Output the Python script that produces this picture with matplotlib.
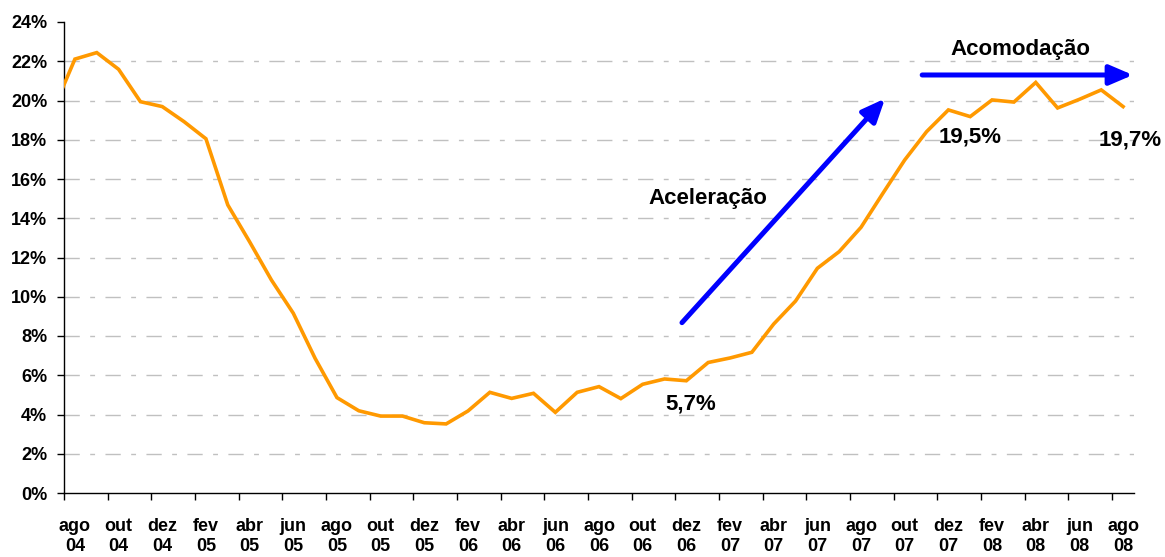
import matplotlib
matplotlib.use("Agg")
import matplotlib.pyplot as plt
from matplotlib.ticker import FixedLocator, NullFormatter, FuncFormatter

plt.rcParams['font.family'] = ['Liberation Sans', 'DejaVu Sans']

# ---- data ----
months = ["jul 04",
          "ago 04", "set 04", "out 04", "nov 04", "dez 04", "jan 05", "fev 05", "mar 05", "abr 05", "mai 05",
          "jun 05", "jul 05", "ago 05", "set 05", "out 05", "nov 05", "dez 05", "jan 06", "fev 06", "mar 06",
          "abr 06", "mai 06", "jun 06", "jul 06", "ago 06", "set 06", "out 06", "nov 06", "dez 06", "jan 07",
          "fev 07", "mar 07", "abr 07", "mai 07", "jun 07", "jul 07", "ago 07", "set 07", "out 07", "nov 07",
          "dez 07", "jan 08", "fev 08", "mar 08", "abr 08", "mai 08", "jun 08", "jul 08", "ago 08"]
values = [19.5,
          22.11, 22.44, 21.59, 19.94, 19.69, 18.92, 18.05, 14.68, 12.8, 10.85,
          9.16, 6.86, 4.86, 4.19, 3.92, 3.92, 3.58, 3.52, 4.18, 5.13,
          4.82, 5.08, 4.11, 5.13, 5.42, 4.81, 5.54, 5.81, 5.72, 6.65,
          6.88, 7.17, 8.61, 9.78, 11.45, 12.3, 13.54, 15.27, 16.97, 18.41,
          19.52, 19.18, 20.03, 19.92, 20.92, 19.62, 20.06, 20.54, 19.69]
tick_labels = ["ago\n04", "out\n04", "dez\n04", "fev\n05", "abr\n05", "jun\n05", "ago\n05", "out\n05",
               "dez\n05", "fev\n06", "abr\n06", "jun\n06", "ago\n06", "out\n06", "dez\n06", "fev\n07",
               "abr\n07", "jun\n07", "ago\n07", "out\n07", "dez\n07", "fev\n08", "abr\n08", "jun\n08",
               "ago\n08"]
y_ticks = [0, 2, 4, 6, 8, 10, 12, 14, 16, 18, 20, 22, 24]

annot_labels = ["5,7%", "19,5%", "19,7%"]
annot_months = ["dez 06", "dez 07", "ago 08"]

# ---- figure ----
W, H, DPI = 1165, 557, 100
fig = plt.figure(figsize=(W / DPI, H / DPI), dpi=DPI)
ax = fig.add_axes([64 / W, 1 - 493 / H, (1134 - 64) / W, (493 - 22) / H])

x = [i - 0.5 for i in range(len(months))]   # mid-month positions; index 1 = ago 04 at 0.5
ax.plot(x, values, color="#FF9900", lw=2.6, solid_joinstyle="miter", zorder=3)

ax.set_xlim(0, 49)
ax.set_ylim(0, 24)

# grid
for yv in y_ticks[1:-1]:
    ax.axhline(yv, color="#c0c0c0", lw=1.0, dashes=(11, 7.5, 3.5, 7.5), zorder=1)

# spines
for s in ["top", "right"]:
    ax.spines[s].set_visible(False)
for s in ["left", "bottom"]:
    ax.spines[s].set_color("black")
    ax.spines[s].set_linewidth(1.0)

ax.yaxis.set_major_locator(FixedLocator(y_ticks))
ax.yaxis.set_major_formatter(FuncFormatter(lambda v, p: f"{int(v)}%"))
ax.tick_params(axis="y", direction="out", length=5, width=1, pad=7, labelsize=13)
for lbl in ax.get_yticklabels():
    lbl.set_fontweight("bold")

label_pos = [i + 0.5 for i in range(0, 49, 2)]
ax.xaxis.set_major_locator(FixedLocator(list(range(0, 49, 2))))
ax.xaxis.set_major_formatter(NullFormatter())
ax.xaxis.set_minor_locator(FixedLocator(label_pos))
ax.set_xticklabels(tick_labels, minor=True)
ax.tick_params(axis="x", which="major", direction="out", length=5, width=1)
ax.tick_params(axis="x", which="minor", length=0, pad=18, labelsize=13)
for lbl in ax.get_xticklabels(minor=True):
    lbl.set_fontweight("bold")
    lbl.set_linespacing(1.25)

# value annotations
offsets = {"dez 06": (0.22, -1.19), "dez 07": (1.0, -1.38), "ago 08": (0.33, -1.7)}
for txt, m in zip(annot_labels, annot_months):
    i = months.index(m)
    dx, dy = offsets[m]
    ax.text(x[i] + dx, values[i] + dy, txt, ha="center", va="center",
            fontsize=16, fontweight="bold", clip_on=False)

# arrows and phase labels
arrow_style = "-|>,head_length=1.4,head_width=0.6"
ax.annotate("", xy=(37.6, 20.1), xytext=(28.3, 8.68),
            arrowprops=dict(arrowstyle=arrow_style, color="#0000FF", lw=3.6,
                            shrinkA=0, shrinkB=0, mutation_scale=10),
            annotation_clip=False)
ax.annotate("", xy=(48.95, 21.3), xytext=(39.3, 21.3),
            arrowprops=dict(arrowstyle=arrow_style, color="#0000FF", lw=3.6,
                            shrinkA=0, shrinkB=0, mutation_scale=10),
            annotation_clip=False)
ax.text(29.5, 15.0, "Aceleração", ha="center", va="center", fontsize=16, fontweight="bold")
ax.text(43.8, 22.6, "Acomodação", ha="center", va="center", fontsize=16, fontweight="bold")

fig.savefig("out.png", dpi=DPI)
